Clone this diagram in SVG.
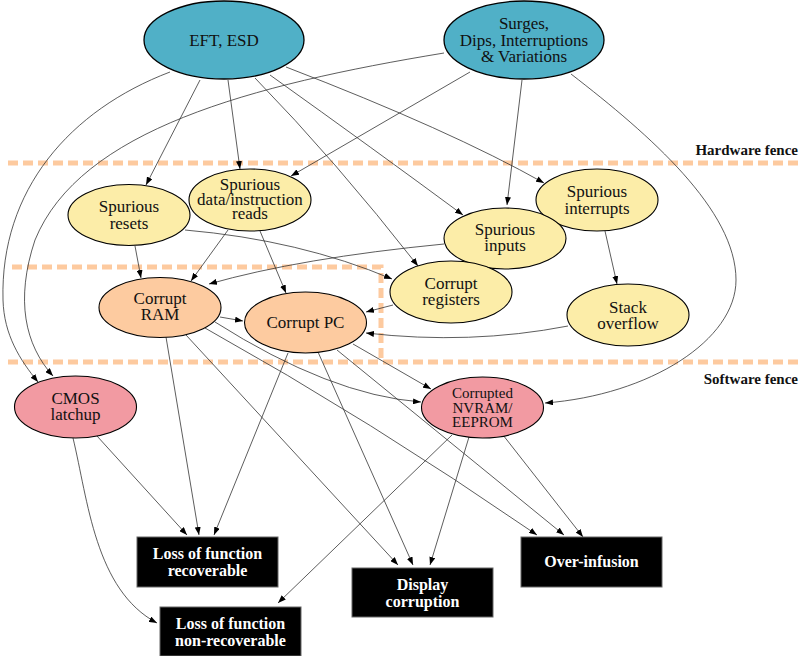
<svg xmlns="http://www.w3.org/2000/svg" width="800" height="656" viewBox="0 0 800 656" font-family="'Liberation Serif', 'Times New Roman', 'DejaVu Serif', serif">
<style>
text{font-family:'Liberation Serif','Times New Roman','DejaVu Serif',serif}
.t{font-size:17px;fill:#111;text-anchor:middle}
.s{font-size:15px}
.b{font-size:16px;font-weight:bold;fill:#fff;text-anchor:middle}
.lab{font-size:15px;font-weight:bold;fill:#111;text-anchor:end}
.blue{fill:#50B0C7;stroke:#000;stroke-width:1.3}
.yel{fill:#FCEDA8;stroke:#000;stroke-width:1.1}
.org{fill:#FDCBA0;stroke:#000;stroke-width:1.1}
.pnk{fill:#F29AA2;stroke:#000;stroke-width:1.1}
.box{fill:#000;stroke:#666;stroke-width:1}
.fence{stroke:#FDCA9F;stroke-width:5;stroke-dasharray:10 5;fill:none}
#edges path{fill:none;stroke:#333;stroke-width:0.8;marker-end:url(#arr)}
</style>
<defs>
<marker id="arr" markerUnits="userSpaceOnUse" markerWidth="8" markerHeight="6" refX="8" refY="3" orient="auto">
<path d="M0,0 L8,3 L0,6 z" fill="#000"/>
</marker>
</defs>

<g id="fences">
<line class="fence" x1="8" y1="163" x2="800" y2="163"/>
<line class="fence" x1="8" y1="362" x2="800" y2="362"/>
<path class="fence" d="M12,267 L381,267 L381,362"/>
<text class="lab" x="798" y="155">Hardware fence</text>
<text class="lab" x="798" y="384">Software fence</text>
</g>

<g id="edges">
<path d="M170,72 C70,110 0,190 3,300 C4,335 20,360 38,382"/>
<path d="M200,80 L146,185"/>
<path d="M228,80 L240,169"/>
<path d="M255,78 Q335,160 418,266"/>
<path d="M270,75 Q375,150 463,215"/>
<path d="M286,67 Q450,130 544,183"/>
<path d="M444,53 C250,85 80,130 35,240 C15,300 25,345 53,376"/>
<path d="M470,72 L291,176"/>
<path d="M522,80 L507,205"/>
<path d="M571,74 C650,135 736,210 736,280 C736,340 650,395 545,403"/>
<path d="M135,246 L141,278"/>
<path d="M185,230 Q300,240 392,279"/>
<path d="M228,230 L191,281"/>
<path d="M260,231 L286,293"/>
<path d="M444,244 Q300,258 209,284"/>
<path d="M605,231 L617,284"/>
<path d="M393,305 L366,312"/>
<path d="M568,326 Q470,345 366,333"/>
<path d="M220,317 L243,321"/>
<path d="M166,337 L199,535"/>
<path d="M186,335 L398,565"/>
<path d="M205,328 Q370,420 537,535"/>
<path d="M215,322 Q330,395 421,402"/>
<path d="M288,353 L214,535"/>
<path d="M318,352 L413,565"/>
<path d="M337,350 L564,535"/>
<path d="M353,344 L431,389"/>
<path d="M97,436 L187,535"/>
<path d="M73,438 C88,500 95,590 157,623"/>
<path d="M452,435 L278,603"/>
<path d="M469,437 L430,565"/>
<path d="M503,435 L583,537"/>
</g>

<g id="eft"><ellipse class="blue" cx="224" cy="40" rx="80" ry="39"/><text class="t" x="224" y="46">EFT, ESD</text></g>
<g id="surges"><ellipse class="blue" cx="524" cy="40" rx="80" ry="39"/>
<text class="t" x="524" y="29">Surges,</text><text class="t" x="524" y="45.5">Dips, Interruptions</text><text class="t" x="524" y="62">&amp; Variations</text></g>

<g id="resets"><ellipse class="yel" cx="129" cy="215" rx="61" ry="30.5"/>
<text class="t" x="129" y="212">Spurious</text><text class="t" x="129" y="229">resets</text></g>
<g id="reads"><ellipse class="yel" cx="250" cy="200" rx="61" ry="31"/>
<text class="t" x="250" y="190">Spurious</text><text class="t" x="250" y="204.5">data/instruction</text><text class="t" x="250" y="219">reads</text></g>
<g id="interrupts"><ellipse class="yel" cx="597" cy="200" rx="61" ry="31"/>
<text class="t" x="597" y="197">Spurious</text><text class="t" x="597" y="214">interrupts</text></g>
<g id="inputs"><ellipse class="yel" cx="505" cy="238.5" rx="61" ry="30.5"/>
<text class="t" x="505" y="235">Spurious</text><text class="t" x="505" y="251">inputs</text></g>
<g id="registers"><ellipse class="yel" cx="451" cy="292" rx="61" ry="31"/>
<text class="t" x="451" y="289">Corrupt</text><text class="t" x="451" y="305">registers</text></g>
<g id="stack"><ellipse class="yel" cx="628" cy="315" rx="61" ry="31"/>
<text class="t" x="628" y="313">Stack</text><text class="t" x="628" y="329">overflow</text></g>

<g id="ram"><ellipse class="org" cx="160" cy="307.5" rx="61" ry="30"/>
<text class="t" x="160" y="304">Corrupt</text><text class="t" x="160" y="320">RAM</text></g>
<g id="pc"><ellipse class="org" cx="305.5" cy="322.5" rx="61" ry="30.5"/>
<text class="t" x="305.5" y="328">Corrupt PC</text></g>

<g id="cmos"><ellipse class="pnk" cx="75.5" cy="407" rx="61" ry="31"/>
<text class="t" x="75.5" y="404">CMOS</text><text class="t" x="75.5" y="420">latchup</text></g>
<g id="nvram"><ellipse class="pnk" cx="482.5" cy="407.5" rx="61" ry="30.5"/>
<text class="t s" x="482.5" y="398">Corrupted</text><text class="t s" x="482.5" y="412.5">NVRAM/</text><text class="t s" x="482.5" y="427">EEPROM</text></g>

<g id="recoverable"><rect class="box" x="137" y="537" width="141" height="50"/>
<text class="b" x="207.5" y="559">Loss of function</text><text class="b" x="207.5" y="575.5">recoverable</text></g>
<g id="nonrecoverable"><rect class="box" x="160" y="607" width="141" height="49"/>
<text class="b" x="230.5" y="629">Loss of function</text><text class="b" x="230.5" y="645.5">non-recoverable</text></g>
<g id="display"><rect class="box" x="352" y="568" width="141" height="49"/>
<text class="b" x="422.5" y="590">Display</text><text class="b" x="422.5" y="606.5">corruption</text></g>
<g id="overinfusion"><rect class="box" x="521" y="537" width="141" height="50"/>
<text class="b" x="591.5" y="567">Over-infusion</text></g>
</svg>
